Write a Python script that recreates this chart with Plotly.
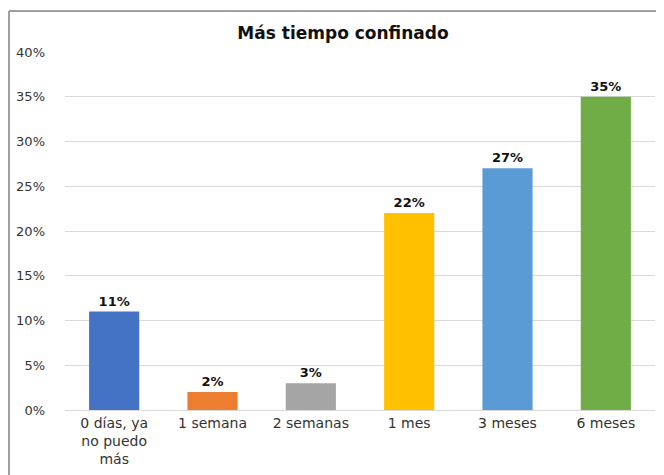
import plotly.graph_objects as go

categories = ["0 días, ya<br>no puedo<br>más", "1 semana", "2 semanas", "1 mes", "3 meses", "6 meses"]
values = [0.11, 0.02, 0.03, 0.22, 0.27, 0.35]
labels = ["11%", "2%", "3%", "22%", "27%", "35%"]
colors = ["#4472C4", "#ED7D31", "#A5A5A5", "#FFC000", "#5B9BD5", "#70AD47"]
ytick_vals = [0, 0.05, 0.10, 0.15, 0.20, 0.25, 0.30, 0.35, 0.40]

# the page body adds an 8px offset, so the figure is shifted accordingly
OFF = 8
W, H = 664 - OFF, 475 - OFF
L, R, T, B = 65 - OFF, 9, 52 - OFF, 65
FONT = "DejaVu Sans"

fig = go.Figure()
fig.add_trace(go.Bar(
    x=categories, y=values,
    marker=dict(color=colors, line=dict(width=0)),
    text=labels, textposition="outside",
    textfont=dict(family=FONT, size=13, color="#111111", weight="bold"),
    cliponaxis=False,
    width=0.51,
))

# chart border (left and top edges)
pw = W - L - R
ph = H - T - B
x0 = (1 - L) / pw
y1 = (H - B - 3) / ph
fig.add_shape(type="line", xref="paper", yref="paper", x0=x0, x1=x0, y0=-B / ph, y1=y1,
              line=dict(color="#a0a0a0", width=2))
fig.add_shape(type="line", xref="paper", yref="paper", x0=x0, x1=(W - L) / pw, y0=y1, y1=y1,
              line=dict(color="#a0a0a0", width=2))

fig.update_layout(
    width=W, height=H,
    margin=dict(l=L, r=R, t=T, b=B),
    paper_bgcolor="white", plot_bgcolor="white",
    showlegend=False,
    title=dict(text="<b>Más tiempo confinado</b>", x=(343 - OFF) / W, xanchor="center",
               xref="container", y=1 - (33 - OFF) / H, yanchor="middle",
               font=dict(family=FONT, size=17, color="#111111")),
    font=dict(family=FONT, color="#404040"),
    bargap=0.49,
)
fig.update_yaxes(range=[0, 0.40], tickvals=ytick_vals, tickformat=".0%",
                 showgrid=True, gridcolor="#d9d9d9", gridwidth=1,
                 zeroline=False, showline=False, ticks="",
                 tickfont=dict(size=13, color="#333333"),
                 ticklabelstandoff=19)
fig.update_xaxes(showline=True, linecolor="#d9d9d9", linewidth=1, ticks="",
                 tickfont=dict(size=14, color="#333333"))

fig.write_html("out.html")
